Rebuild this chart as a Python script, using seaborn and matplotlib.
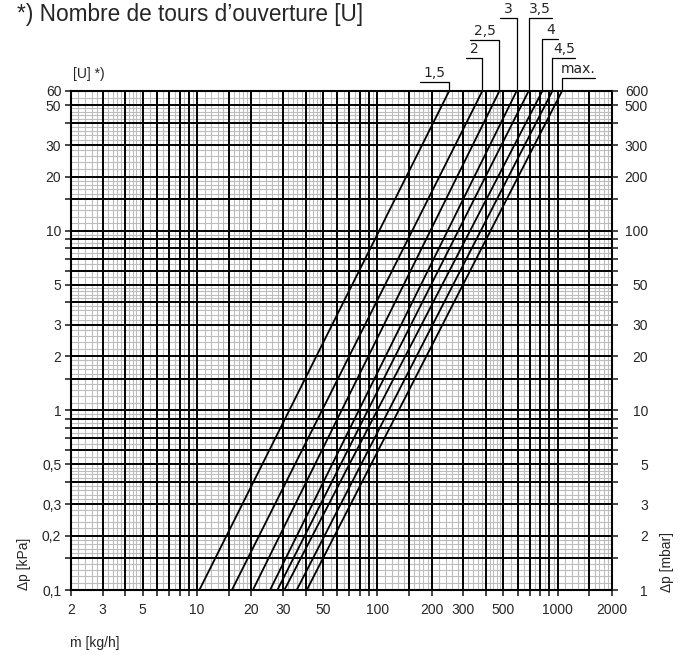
import numpy as np
import pandas as pd
import matplotlib
matplotlib.use('Agg')
import matplotlib.pyplot as plt
import matplotlib.transforms as mtransforms
from matplotlib.lines import Line2D
import seaborn as sns

# opening turns [U] and the mass flow where each line hits 0.1 kPa and 60 kPa
turns = ['1,5', '2', '2,5', '3', '3,5', '4', '4,5', 'max.']
m_at_bottom = [10.3, 15.6, 20.4, 25.4, 27.9, 30.5, 35.7, 40.6]
m_at_top = [250, 382, 475, 592, 690, 822, 934, 1057]
dp_bottom = 0.1
dp_top = 60

x_ticks = [2, 3, 5, 10, 20, 30, 50, 100, 200, 300, 500, 1000, 2000]
y_ticks = [0.1, 0.2, 0.3, 0.5, 1, 2, 3, 5, 10, 20, 30, 50, 60]
y_labels = ['0,1', '0,2', '0,3', '0,5', '1', '2', '3', '5', '10', '20', '30', '50', '60']
y2_labels = ['1', '2', '3', '5', '10', '20', '30', '50', '100', '200', '300', '500', '600']

rows = []
for t, mb, mt in zip(turns, m_at_bottom, m_at_top):
    rows.append({'U': t, 'm': mb, 'dp': dp_bottom})
    rows.append({'U': t, 'm': mt, 'dp': dp_top})
df = pd.DataFrame(rows)

sns.set_style('white')
plt.rcParams['font.family'] = ['Liberation Sans', 'DejaVu Sans']

W, H = 683, 655
fig = plt.figure(figsize=(W / 100, H / 100), dpi=100)
ax = fig.add_axes([71 / W, 65 / H, 541 / W, 499 / H])
ax.set_xscale('log')
ax.set_yscale('log')
ax.set_xlim(2, 2000)
ax.set_ylim(0.1, 60)


# log paper grid
def paper(lo, hi):
    major, minor = [], []
    for d in [0.01, 0.1, 1, 10, 100, 1000]:
        for k in [1, 1.5, 2, 3, 4, 5, 6, 7, 8, 9]:
            major.append(round(k * d, 6))
        for k in list(np.arange(1.1, 2, 0.1)) + list(np.arange(2.2, 5, 0.2)) + list(np.arange(5.5, 10, 0.5)):
            minor.append(round(k * d, 6))
    major = [v for v in major if lo <= v <= hi]
    minor = [v for v in minor if lo <= v <= hi and v not in major]
    return major, minor


xmaj, xmin = paper(2, 2000)
ymaj, ymin = paper(0.1, 60)
if 60 not in ymaj:
    ymaj.append(60)

for v in xmin:
    ax.axvline(v, color='#bdbdbd', lw=0.8, zorder=1)
for v in ymin:
    ax.axhline(v, color='#bdbdbd', lw=0.8, zorder=1)
for v in xmaj:
    ax.axvline(v, color='black', lw=1.4, zorder=2)
for v in ymaj:
    ax.axhline(v, color='black', lw=1.4, zorder=2)

sns.lineplot(data=df, x='m', y='dp', units='U', estimator=None,
             color='black', lw=1.3, ax=ax, zorder=3)

ax.set_xticks(xmaj)
ax.set_xticklabels([(str(v) if v in x_ticks else '') for v in xmaj], fontsize=10)
ax.set_yticks(ymaj)
ax.set_yticklabels([(y_labels[y_ticks.index(v)] if v in y_ticks else '') for v in ymaj], fontsize=10)
ax.minorticks_off()
ax.tick_params(axis='x', direction='out', length=4, width=1.2, pad=5, bottom=True)
ax.tick_params(axis='y', direction='out', length=4, width=1.2, pad=3, left=True)
ax.set_xlabel('')
ax.set_ylabel('')
for s in ax.spines.values():
    s.set_linewidth(1.5)
    s.set_color('black')

# right axis in mbar
ax2 = ax.twinx()
ax2.set_yscale('log')
ax2.set_ylim(1, 600)
ymaj2 = [round(v * 10, 6) for v in ymaj]
y2_vals = [round(v * 10, 6) for v in y_ticks]
ax2.set_yticks(ymaj2)
ax2.set_yticklabels([(y2_labels[y2_vals.index(v)] if v in y2_vals else '') for v in ymaj2], fontsize=10)
ax2.minorticks_off()
ax2.tick_params(axis='y', direction='out', length=4, width=1.2, pad=22, right=True)
for lab in ax2.get_yticklabels():
    lab.set_horizontalalignment('right')
for s in ax2.spines.values():
    s.set_visible(False)

# texts
fig.text(17 / W, 1 - 21 / H, "*) Nombre de tours d\u2019ouverture [U]", fontsize=16.3, va='baseline', ha='left')
fig.text(73 / W, 1 - 78 / H, '[U] *)', fontsize=10, va='baseline', ha='left')
fig.text(70 / W, 1 - 647 / H, '\u1e41 [kg/h]', fontsize=10, va='baseline', ha='left')
fig.text(24 / W, 1 - 590 / H, '\u0394p [kPa]', fontsize=10, rotation=90, va='bottom', ha='center')
fig.text(667 / W, 1 - 592 / H, '\u0394p [mbar]', fontsize=10, rotation=90, va='bottom', ha='center')

# curve labels with leader lines
lab_level = [9, 33, 51, 73, 73, 52, 33, 13]
lab_width = [29, 16, 29, 17, 23, 16, 23, 33]
lab_side = [-1, -1, -1, -1, 1, 1, 1, 1]
ident = mtransforms.IdentityTransform()
for t, mt, lv, wd, sd in zip(turns, m_at_top, lab_level, lab_width, lab_side):
    xp, yp = ax.transData.transform((mt, dp_top))
    yl = yp + lv
    x2 = xp + sd * wd
    fig.add_artist(Line2D([xp, xp, x2], [yp, yl, yl], transform=ident,
                          color='black', lw=0.9))
    fig.text((xp + x2) / 2, yl + 2, t, transform=ident, ha='center', va='bottom',
             fontsize=10, family='DejaVu Sans')

fig.savefig('out.png', dpi=100)
